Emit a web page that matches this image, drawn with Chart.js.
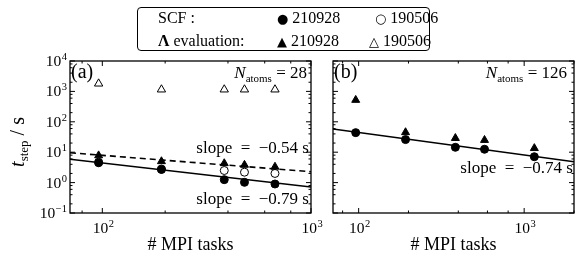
<!DOCTYPE html>
<html>
<head>
<meta charset="utf-8">
<script src="https://cdn.jsdelivr.net/npm/chart.js@4.4.0/dist/chart.umd.min.js"></script>
<style>
  body { margin: 0; background: #fff; }
  #wrap { position: relative; width: 585px; height: 264px; background: #fff; overflow: hidden;
          font-family: 'Liberation Serif', 'DejaVu Serif', serif; color: #000; }
  canvas { position: absolute; top: 0; }
  .txt { position: absolute; white-space: pre; line-height: 1; }
  .sub { font-size: 11px; position: relative; top: 4px; }
  .mk { font-family: 'DejaVu Sans', sans-serif; font-size: 13px; }
  #legendBox { position: absolute; left: 137px; top: 7px; width: 291px; height: 42px;
               border: 1.5px solid #000; border-radius: 4px; }
</style>
</head>
<body>
<div id="wrap">
  <canvas id="LeftChart" width="340" height="264" style="left:0"></canvas>
  <canvas id="RightChart" width="267" height="264" style="left:318px"></canvas>

  <div id="legendBox"></div>
  <div class="txt" style="left:158px;top:10px;font-size:16px">SCF :</div>
  <div class="txt" style="left:277px;top:10px;font-size:16px"><span class="mk">●</span> 210928</div>
  <div class="txt" style="left:375px;top:10px;font-size:16px"><span class="mk">○</span> 190506</div>
  <div class="txt" style="left:158px;top:33px;font-size:16px"><b>Λ</b> evaluation:</div>
  <div class="txt" style="left:277px;top:33px;font-size:16px"><span class="mk">▲</span> 210928</div>
  <div class="txt" style="left:369px;top:33px;font-size:16px"><span class="mk">△</span> 190506</div>

  <div class="txt" style="left:17px;top:142px;font-size:20px;transform:translate(-50%,-50%) rotate(-90deg)"><i>t</i><span class="sub" style="font-size:13px">step</span> / s</div>

  <div class="txt" style="left:71px;top:61px;font-size:20px">(a)</div>
  <div class="txt" style="right:278px;top:64px;font-size:17px"><i>N</i><span class="sub">atoms</span> = 28</div>
  <div class="txt" style="right:276px;top:139px;font-size:17px">slope  =  −0.54 s</div>
  <div class="txt" style="right:276px;top:190px;font-size:17px">slope  =  −0.79 s</div>

  <div class="txt" style="left:334px;top:61px;font-size:20px">(b)</div>
  <div class="txt" style="right:18px;top:64px;font-size:17px"><i>N</i><span class="sub">atoms</span> = 126</div>
  <div class="txt" style="right:12px;top:159px;font-size:17px">slope  =  −0.74 s</div>
</div>

<script>
const SERIF = '"Liberation Serif", "DejaVu Serif", serif';

// panel (a): N_atoms = 28
const xLeft = [96, 192, 384, 480, 672];
const scfNewLeft = [4.5, 2.7, 1.25, 1.02, 0.9];
const scfOldLeft = [4.7, 2.8, 2.5, 2.2, 2.0];
const lambdaNewLeft = [7.8, 5.0, 4.3, 3.8, 3.3];
const lambdaOldLeft = [1800, 1150, 1150, 1150, 1150];

// panel (b): N_atoms = 126
const xRight = [96, 192, 384, 576, 1152];
const scfNewRight = [44, 26, 14.5, 12.5, 7.1];
const lambdaNewRight = [520, 45, 29, 25, 13.5];

// power-law fits: [value at 100 tasks, slope]
const fitLeftScf = [4.4, -0.79];
const fitLeftLambda = [7.9, -0.54];
const fitRightScf = [44.6, -0.74];

// axes
const xMin = 70;
const xMaxLeft = 1000;
const xMaxRight = 2000;
const yMin = 0.1;
const yMax = 10000;
const xMajorTicks = [100, 1000];
const xMinorTicks = [80, 200, 400, 600, 800, 2000];
const yMajorTicks = [0.1, 1, 10, 100, 1000, 10000];
const yMajorLabels = ['−1', '0', '1', '2', '3', '4'];
const xMajorLabels = ['2', '3'];

const yMinorTicks = [];
yMajorTicks.forEach(d => [2, 4, 6, 8].forEach(m => yMinorTicks.push(d * m)));

function Points(xs, ys)
{
    return xs.map((v, i) => ({ x: v, y: ys[i] }));
}

function FitLine(fit, xMax)
{
    return [xMin, xMax].map(v => ({ x: v, y: fit[0] * Math.pow(v / 100, fit[1]) }));
}

function PowLabel(ctx, exp, x, y, align)
{
    ctx.font = '15.5px ' + SERIF;
    const wBase = ctx.measureText('10').width;
    ctx.font = '10.5px ' + SERIF;
    const wExp = ctx.measureText(exp).width;
    const total = wBase + wExp + 0.5;
    let start = x;
    if (align === 'right') start = x - total;
    if (align === 'center') start = x - total / 2;
    ctx.textAlign = 'left';
    ctx.textBaseline = 'alphabetic';
    ctx.font = '15.5px ' + SERIF;
    ctx.fillText('10', start, y);
    ctx.font = '10.5px ' + SERIF;
    ctx.fillText(exp, start + wBase + 0.5, y - 6);
}

const axisDecor = {
    id: 'axisDecor',
    afterDraw(chart, args, opts) {
        const { ctx, chartArea: { left, right, top, bottom }, scales: { x, y } } = chart;
        ctx.save();
        ctx.strokeStyle = '#000';
        ctx.fillStyle = '#000';
        ctx.lineWidth = 1;
        const seg = (x1, y1, x2, y2) => { ctx.beginPath(); ctx.moveTo(x1, y1); ctx.lineTo(x2, y2); ctx.stroke(); };
        const inX = v => v >= x.min && v <= x.max;
        const inY = v => v >= y.min && v <= y.max;

        xMajorTicks.filter(inX).forEach(v => {
            const p = x.getPixelForValue(v);
            seg(p, bottom, p, bottom - 5); seg(p, top, p, top + 5);
        });
        xMinorTicks.filter(inX).forEach(v => {
            const p = x.getPixelForValue(v);
            seg(p, bottom, p, bottom - 2.5); seg(p, top, p, top + 2.5);
        });
        yMajorTicks.filter(inY).forEach(v => {
            const p = y.getPixelForValue(v);
            seg(left, p, left + 5, p); seg(right, p, right - 5, p);
        });
        yMinorTicks.filter(inY).forEach(v => {
            const p = y.getPixelForValue(v);
            seg(left, p, left + 2.5, p); seg(right, p, right - 2.5, p);
        });

        ctx.lineWidth = 1.3;
        ctx.strokeRect(left, top, right - left, bottom - top);

        if (opts.yLabels)
        {
            yMajorTicks.forEach((v, i) => PowLabel(ctx, yMajorLabels[i], left - 3, y.getPixelForValue(v) + 5, 'right'));
        }
        xMajorTicks.forEach((v, i) => PowLabel(ctx, xMajorLabels[i], x.getPixelForValue(v) + 1, 233, 'center'));
        ctx.restore();
    }
};

Chart.register(axisDecor);
Chart.defaults.color = '#000';

function MakeOptions(xMax, padRight, yWidth, yLabels)
{
    return {
        responsive: false,
        animation: false,
        layout: { padding: { top: 61, right: padRight, left: 0, bottom: 0 } },
        plugins: {
            legend: { display: false },
            tooltip: { enabled: false },
            axisDecor: { yLabels: yLabels }
        },
        scales: {
            x: {
                type: 'logarithmic', min: xMin, max: xMax, bounds: 'data',
                grid: { display: false }, border: { display: false },
                ticks: { display: false },
                title: { display: true, text: '# MPI tasks', color: '#000',
                         font: { family: SERIF, size: 18 }, padding: { top: 0, bottom: 8 } },
                afterFit: s => { s.height = 51; }
            },
            y: {
                type: 'logarithmic', min: yMin, max: yMax, bounds: 'data',
                grid: { display: false }, border: { display: false },
                ticks: { display: false },
                afterFit: s => { s.width = yWidth; }
            }
        }
    };
}

const filledTri = { pointStyle: 'triangle', pointRadius: 4.6, backgroundColor: '#000', borderColor: '#000', borderWidth: 1 };
const openTri = { pointStyle: 'triangle', pointRadius: 4.8, backgroundColor: '#fff', borderColor: '#000', borderWidth: 1 };
const filledDot = { pointStyle: 'circle', pointRadius: 4, backgroundColor: '#000', borderColor: '#000', borderWidth: 1 };
const openDot = { pointStyle: 'circle', pointRadius: 4, backgroundColor: '#fff', borderColor: '#000', borderWidth: 1 };

new Chart(document.getElementById('LeftChart'),
{
    type: 'scatter',
    data:
    {
        datasets: [
            { ...filledTri, data: Points(xLeft, lambdaNewLeft) },
            { ...filledDot, data: Points(xLeft, scfNewLeft) },
            { ...openDot, data: Points(xLeft, scfOldLeft) },
            { ...openTri, data: Points(xLeft, lambdaOldLeft) },
            { data: FitLine(fitLeftLambda, xMaxLeft), showLine: true, pointRadius: 0,
              borderColor: '#000', borderWidth: 1.6, borderDash: [6, 4] },
            { data: FitLine(fitLeftScf, xMaxLeft), showLine: true, pointRadius: 0,
              borderColor: '#000', borderWidth: 1.6 }
        ]
    },
    options: MakeOptions(xMaxLeft, 29, 70, true)
});

new Chart(document.getElementById('RightChart'),
{
    type: 'scatter',
    data:
    {
        datasets: [
            { ...filledTri, data: Points(xRight, lambdaNewRight) },
            { ...filledDot, data: Points(xRight, scfNewRight) },
            { data: FitLine(fitRightScf, xMaxRight), showLine: true, pointRadius: 0,
              borderColor: '#000', borderWidth: 1.6 }
        ]
    },
    options: MakeOptions(xMaxRight, 11, 15, false)
});
</script>
</body>
</html>
